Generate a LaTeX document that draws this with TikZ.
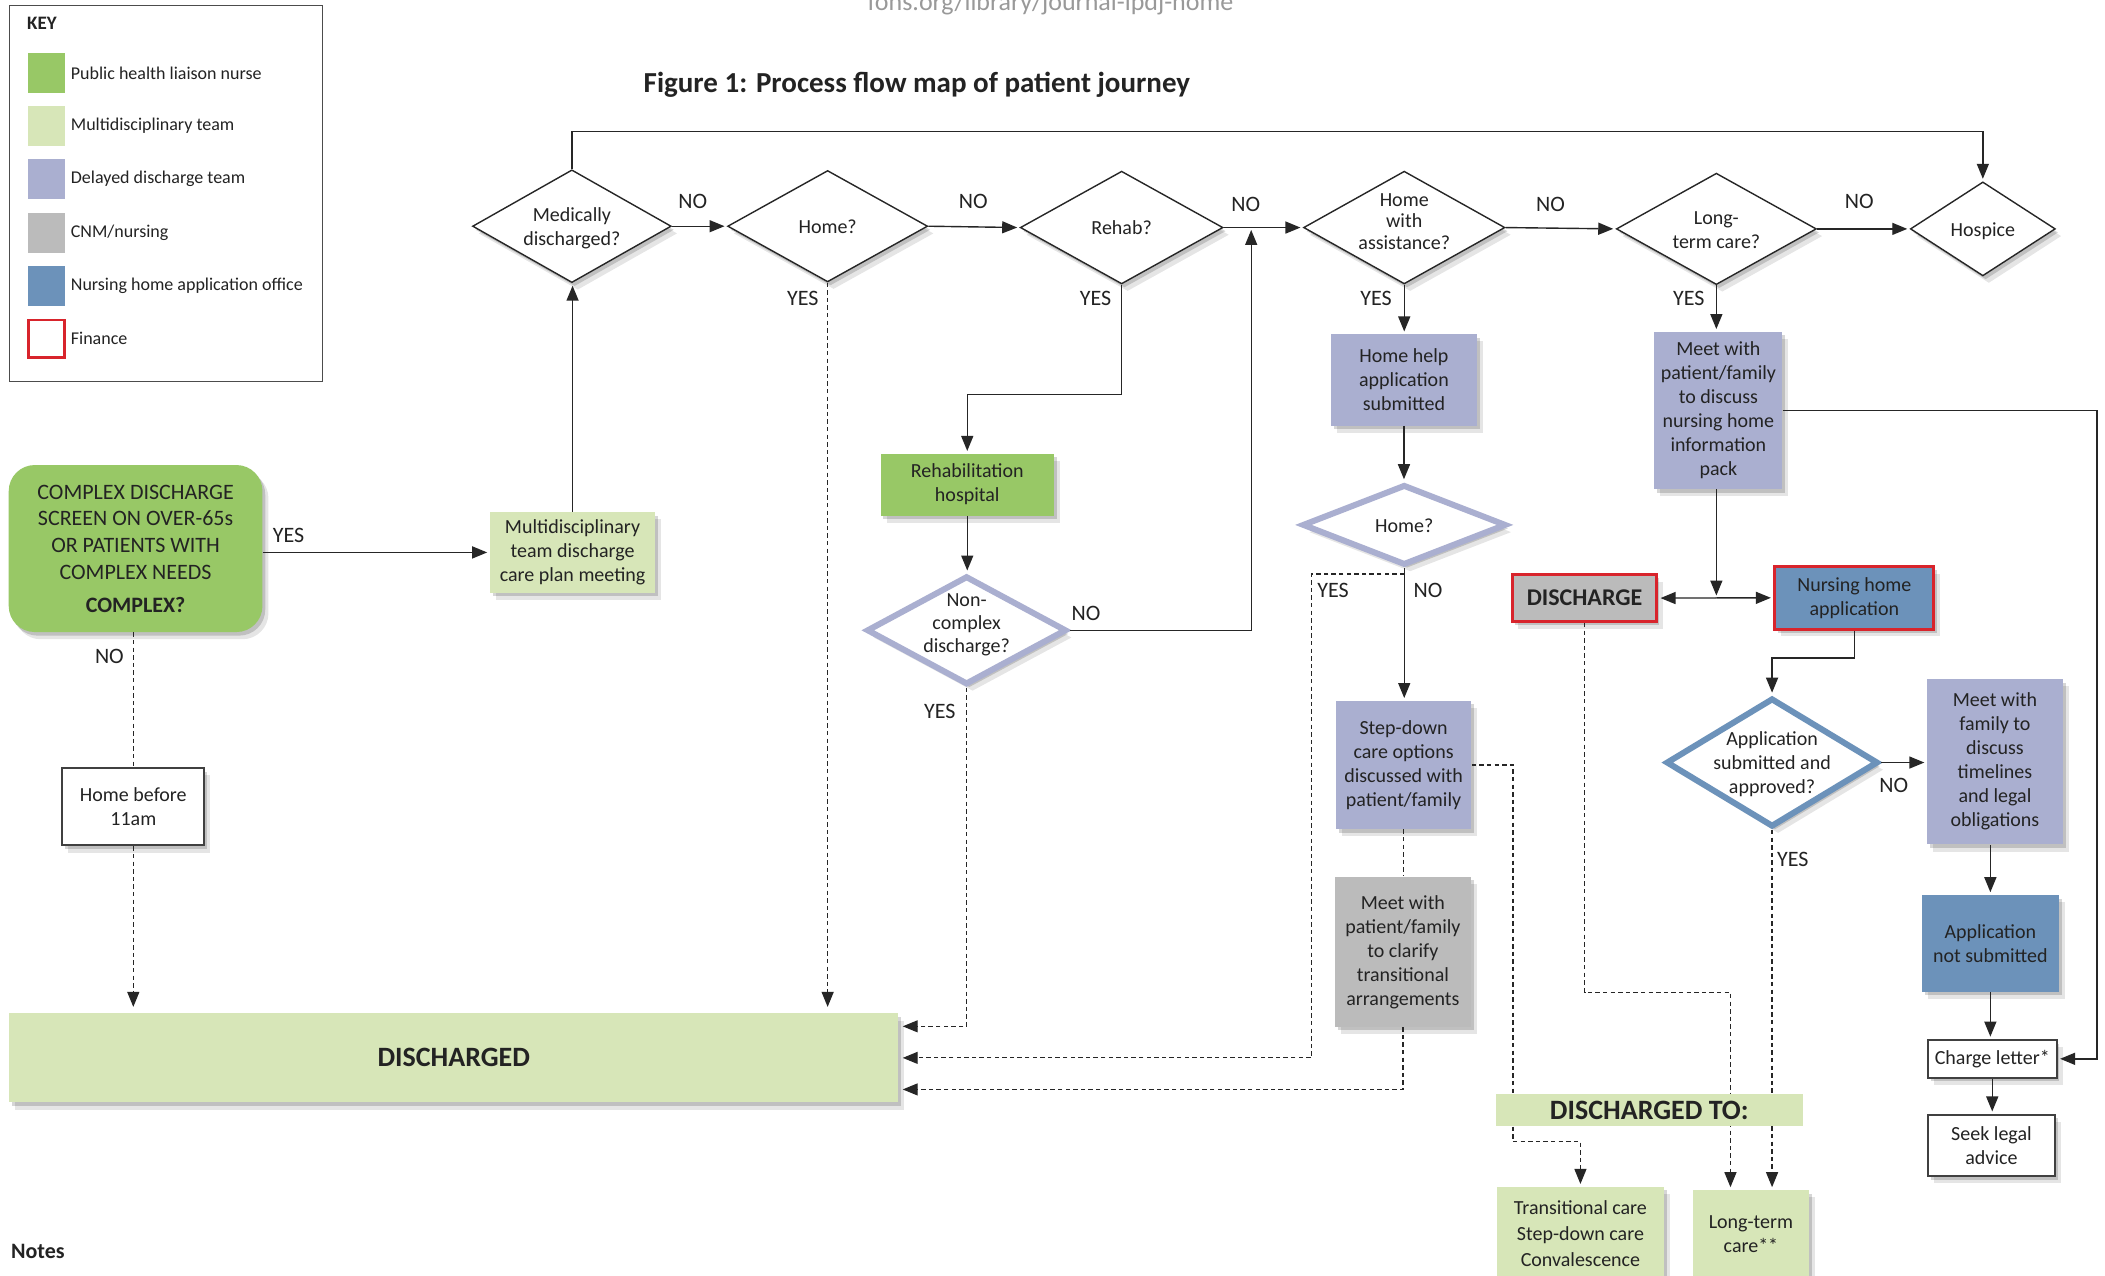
\documentclass[tikz,border=0pt]{standalone}
\usepackage{fontspec}
\setmainfont{Carlito}
\usetikzlibrary{shapes.geometric,arrows.meta,shadows,calc}

\definecolor{greenA}{RGB}{152,200,102}
\definecolor{greenL}{RGB}{215,230,184}
\definecolor{lav}{RGB}{170,175,208}
\definecolor{greyC}{RGB}{187,187,187}
\definecolor{blueN}{RGB}{108,146,186}
\definecolor{redF}{RGB}{216,36,44}
\definecolor{txt}{RGB}{35,35,35}

\newsavebox\dbox
\newcommand\dtxt[2][-1.2pt]{\sbox\dbox{\begin{tabular}{@{}c@{}}#2\end{tabular}}\makebox[0pt]{\raisebox{#1}[\ht\dbox][\dp\dbox]{\usebox\dbox}}}

\tikzset{
 sz/.style 2 args={minimum width=#1*0.6713pt, minimum height=#2*0.6713pt},
 shad/.style={drop shadow={shadow xshift=1.4pt,shadow yshift=-1.8pt,opacity=0.16,fill=black},
              drop shadow={shadow xshift=3pt,shadow yshift=-3.6pt,opacity=0.10,fill=black}},
 box/.style={rectangle, align=center, inner sep=1pt, text=txt, font=\fontsize{10}{12}\selectfont, shad},
 dec/.style={diamond, draw=black!85, line width=0.7pt, fill=white, inner sep=0pt, text=txt, font=\fontsize{10}{12}\selectfont, shad},
 decL/.style={dec, draw=lav, line width=3pt},
 decB/.style={dec, draw=blueN, line width=3pt},
 lbl/.style={text=txt, font=\fontsize{11}{13}\selectfont, inner sep=0pt},
 ln/.style={draw=black!85, line width=0.7pt},
 arr/.style={ln, -{Triangle[length=7.5pt,width=6pt]}, shorten >=1.2pt},
 dsh/.style={draw=black!85, line width=0.6pt, dash pattern=on 2.2pt off 1.6pt},
 darr/.style={dsh, -{Triangle[length=7.5pt,width=6pt]}, shorten >=1.2pt},
 keysw/.style={rectangle, sz={28}{29.6}, inner sep=0pt},
 keytx/.style={anchor=west, text=txt, font=\fontsize{9}{11}\selectfont, inner sep=0pt},
}

\begin{document}
\begin{tikzpicture}[x=0.6713pt,y=-0.6713pt]
\useasboundingbox (0,0) rectangle (1568,950);
\clip (0,0) rectangle (1568,950);
\fill[white] (0,0) rectangle (1568,950);

% header
\node[anchor=base, text=black!40, font=\fontsize{13}{15}\selectfont, inner sep=0pt] (url) at (782.5,7.5) {fons.org/library/journal-ipdj-home};
\node[font=\bfseries\fontsize{14.5}{17}\selectfont, text=txt] (title) at (683,63.5) {Figure 1: Process flow map of patient journey};

% key
\node[draw=black!70, line width=0.6pt, sz={233}{280}, inner sep=0pt] (keybox) at (123.5,144) {};
\node[anchor=west, font=\bfseries\fontsize{9.5}{11}\selectfont, text=txt, inner sep=0pt] (keyt) at (20,17.5) {KEY};
\node[keysw, fill=greenA] (k1) at (34.5,54.4) {};
\node[keytx] (k1t) at (52.5,54.4) {Public health liaison nurse};
\node[keysw, fill=greenL] (k2) at (34.5,93.8) {};
\node[keytx] (k2t) at (52.5,93.8) {Multidisciplinary team};
\node[keysw, fill=lav] (k3) at (34.5,133.1) {};
\node[keytx] (k3t) at (52.5,133.1) {Delayed discharge team};
\node[keysw, fill=greyC] (k4) at (34.5,173.3) {};
\node[keytx] (k4t) at (52.5,173.3) {CNM/nursing};
\node[keysw, fill=blueN] (k5) at (34.5,212.8) {};
\node[keytx] (k5t) at (52.5,212.8) {Nursing home application office};
\node[keysw, fill=white, draw=redF, line width=1.4pt, sz={27}{28}] (k6) at (34.5,252.3) {};
\node[keytx] (k6t) at (52.5,252.3) {Finance};

% top row of decisions
\node[dec, sz={148}{84}] (med) at (426,168.5) {\dtxt{Medically\\discharged?}};
\node[dec, sz={149}{83}] (home1) at (616.5,168.5) {\dtxt{Home?}};
\node[dec, sz={151}{84}] (rehab) at (835.5,169.5) {\dtxt{Rehab?}};
\node[dec, sz={150}{84}, font=\fontsize{10}{10.8}\selectfont] (hwa) at (1046,169.5) {\dtxt[2pt]{Home\\with\\assistance?}};
\node[dec, sz={149}{83}] (ltc) at (1278.5,170.5) {\dtxt{Long-\\term care?}};
\node[dec, sz={108}{70}] (hospice) at (1477,170.5) {\dtxt{Hospice}};

% left part
\node[box, fill=greenA, rounded corners=13pt, sz={189}{124.4}, font=\fontsize{11}{13.4}\selectfont] (complex) at (101,408.6)
  {COMPLEX DISCHARGE\\SCREEN ON OVER-65s\\OR PATIENTS WITH\\COMPLEX NEEDS\\[3pt]\textbf{COMPLEX?}};
\node[box, fill=greenL, sz={123}{60}] (mdt) at (426.5,411.5) {Multidisciplinary\\team discharge\\care plan meeting};
\node[box, fill=white, draw=black!75, line width=1pt, sz={105.5}{57.5}] (hb) at (99.3,601) {Home before\\11am};
\node[box, fill=greenL, sz={662.3}{66.4}, font=\bfseries\fontsize{14}{16}\selectfont] (dchd) at (338,788) {DISCHARGED};

% rehab branch
\node[box, fill=greenA, sz={129}{46}] (rhosp) at (720.5,361) {Rehabilitation\\hospital};
\node[decL, sz={149}{81}, font=\fontsize{10}{11.7}\selectfont] (nonc) at (720,469.5) {\dtxt[2.7pt]{Non-\\complex\\discharge?}};

% home with assistance branch
\node[box, fill=lav, sz={108.5}{68}] (hhelp) at (1045.8,283) {Home help\\application\\submitted};
\node[decL, sz={152}{60}] (home2) at (1046,391) {\dtxt{Home?}};
\node[box, fill=lav, sz={101}{95.5}] (step) at (1045.5,569.8) {Step-down\\care options\\discussed with\\patient/family};
\node[box, fill=greyC, sz={101.3}{111.7}] (mclar) at (1045,709) {Meet with\\patient/family\\to clarify\\transitional\\arrangements};

% long-term care branch
\node[box, fill=lav, sz={95.4}{117}] (mltc) at (1280,305.7) {Meet with\\patient/family\\to discuss\\nursing home\\information\\pack};
\node[box, fill=greyC, draw=redF, line width=1.5pt, sz={107.4}{35}, font=\bfseries\fontsize{12}{14}\selectfont] (dis) at (1180.3,445.5) {DISCHARGE};
\node[box, fill=blueN, draw=redF, line width=1.5pt, sz={118.6}{46.5}] (nha) at (1381.3,445.3) {Nursing home\\application};
\node[decB, sz={158}{96}] (app) at (1320,568) {\dtxt{Application\\submitted and\\approved?}};
\node[box, fill=lav, sz={101}{123.2}] (mfam) at (1486,567.4) {Meet with\\family to\\discuss\\timelines\\and legal\\obligations};
\node[box, fill=blueN, sz={102.2}{72}] (anot) at (1482.6,702.7) {Application\\not submitted};
\node[box, fill=white, draw=black!75, line width=1pt, sz={96}{28}] (charge) at (1484,788.7) {Charge letter*};
\node[box, fill=white, draw=black!75, line width=1pt, sz={94.8}{45.5}] (seek) at (1483.4,853.2) {Seek legal\\advice};
\node[box, fill=greenL, sz={124.5}{70}, font=\fontsize{10}{13}\selectfont] (trans) at (1177.25,919) {Transitional care\\Step-down care\\Convalescence};
\node[box, fill=greenL, sz={86.5}{66}] (ltcare) at (1304.25,919.4) {Long-term\\care**};

% coordinates
\coordinate (topy) at (0,98);
\coordinate (r1) at (835.5,294);
\coordinate (j1) at (932,0);
\coordinate (h2b) at (1046,427.6);
\coordinate (yx) at (977,0);
\coordinate (sx) at (1127,850.4);
\coordinate (jn) at (1278.5,445.4);
\coordinate (rx) at (1562,0);
\coordinate (ny) at (0,490);
\coordinate (dy) at (1289,739);

% connectors - top row
\draw[arr] (med.north) -- (med.north |- topy) -| (hospice.north);
\draw[arr] (med.east) -- (home1.west);
\draw[arr] (home1.east) -- (rehab.west);
\draw[arr] (rehab.east) -- (hwa.west);
\draw[arr] (hwa.east) -- (ltc.west);
\draw[arr] (ltc.east) -- (hospice.west);

% left
\draw[arr] (complex.east |- mdt.west) -- (mdt.west);
\draw[arr] (mdt.north) -- (mdt.north |- med.south);
\draw[dsh] (hb.north |- complex.south) -- (hb.north);
\draw[darr, shorten >=3pt] (hb.south) -- (hb.south |- dchd.north);
\draw[darr, shorten >=3pt] (home1.south) -- (home1.south |- dchd.north);

% rehab branch
\draw[arr] (rehab.south) -- (r1) -| (rhosp.north);
\draw[arr] (rhosp.south) -- (rhosp.south |- nonc.north);
\draw[arr] (nonc.east) -| (j1 |- rehab.east);
\draw[darr, shorten >=2pt] (nonc.south) |- ($(dchd.east)+(0,-23.5)$);

% home with assistance branch
\draw[arr] (hwa.south) -- (hwa.south |- hhelp.north);
\draw[arr] (hhelp.south) -- (hhelp.south |- home2.north);
\draw[arr] (home2.south) -- (home2.south |- step.north);
\draw[darr, shorten >=2pt] (h2b) -- (h2b -| yx) -- (yx |- dchd.east) -- (dchd.east);
\draw[dsh] (step.south) -- (step.south |- mclar.north);
\draw[darr, shorten >=2pt] (mclar.south) |- ($(dchd.east)+(0,23.5)$);
\draw[darr] (step.east) -| (sx) -| (trans.north);

% long-term care branch
\draw[arr] (ltc.south) -- (ltc.south |- mltc.north);
\draw[arr] (mltc.south -| jn) -- (jn);
\draw[arr] (jn) -- (dis.east);
\draw[arr] (jn) -- (nha.west);
\draw[arr] (mltc.east) -- (mltc.east -| rx) -- (rx |- charge.east) -- (charge.east);
\draw[arr] (nha.south) -- (nha.south |- ny) -| (app.north);
\draw[arr] (app.east) -- (app.east -| mfam.west);
\draw[darr] (app.south) -- (app.south |- ltcare.north);
\draw[darr] (dis.south) |- (dy) -- (dy |- ltcare.north);
\draw[arr] (anot.north |- mfam.south) -- (anot.north);
\draw[arr] (anot.south) -- (anot.south |- charge.north);
\draw[arr] (charge.south) -- (charge.south |- seek.north);

% bar drawn above the dashed lines
\node[fill=greenL, sz={229}{24}, inner sep=0pt, font=\bfseries\fontsize{14}{16}\selectfont, text=txt] (dto) at (1228.5,827) {DISCHARGED TO:};

% labels
\node[lbl] (l1) at (516,150) {NO};
\node[lbl] (l2) at (725,150) {NO};
\node[lbl] (l3) at (928,152) {NO};
\node[lbl] (l4) at (1155,152) {NO};
\node[lbl] (l5) at (1385,150) {NO};
\node[lbl] (l6) at (598,222) {YES};
\node[lbl] (l7) at (816,222) {YES};
\node[lbl] (l8) at (1025,222) {YES};
\node[lbl] (l9) at (1258,222) {YES};
\node[lbl] (l10) at (215,398.5) {YES};
\node[lbl] (l11) at (81.5,489) {NO};
\node[lbl] (l12) at (809,457) {NO};
\node[lbl] (l13) at (700,530) {YES};
\node[lbl] (l14) at (993,439.5) {YES};
\node[lbl] (l15) at (1063.7,439.5) {NO};
\node[lbl] (l16) at (1410.6,584.7) {NO};
\node[lbl] (l17) at (1335.4,640) {YES};

% notes
\node[anchor=west, font=\bfseries\fontsize{11}{13}\selectfont, text=txt, inner sep=0pt] (notes) at (8,932.4) {Notes};
\end{tikzpicture}
\end{document}
